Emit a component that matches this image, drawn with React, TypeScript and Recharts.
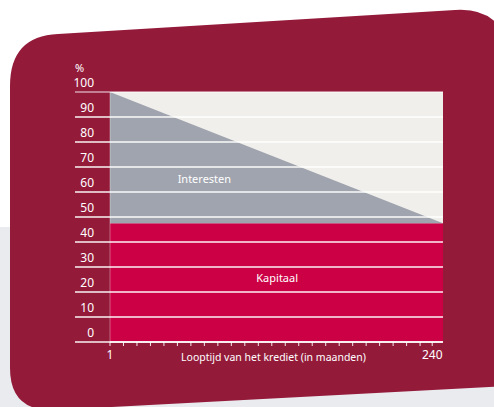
import { AreaChart, Area, XAxis, YAxis, CartesianGrid, ReferenceDot, Label } from 'recharts';

const months = [1, 248];
const kapitaal = [47.5, 47.5];
const interesten = [52.5, 0];
const yTicks = [0, 10, 20, 30, 40, 50, 60, 70, 80, 90, 100];
const xTicks = [1, 11, 21, 31, 41, 51, 61, 71, 81, 91, 101, 111, 121, 131, 141, 151, 161, 171, 181, 191, 201, 211, 221, 231, 240];
const xLabelled = [1, 240];
const seriesLabels = [
  { name: 'Interesten', month: 71, value: 65 },
  { name: 'Kapitaal', month: 125, value: 25.5 },
];

const data = months.map((m, i) => ({ month: m, kapitaal: kapitaal[i], interesten: interesten[i] }));

const W = 494;
const H = 407;
const PLOT_LEFT = 110;
const PLOT_RIGHT = 443;
const FONT = '"Noto Sans", sans-serif';

function YTick(props: any) {
  const { y, payload } = props;
  const v = payload.value;
  return (
    <g>
      <line x1={PLOT_LEFT - 35} x2={PLOT_RIGHT} y1={y} y2={y} stroke="#fff" strokeOpacity={v === 100 ? 0.6 : 0.95} strokeWidth={1.5} />
      <text x={94} y={y - 10} textAnchor="end" dominantBaseline="central" fill="#fff" fontSize={12} fontFamily={FONT}>{v}</text>
      {v === 100 && (
        <text x={75} y={y - 25} textAnchor="start" dominantBaseline="central" fill="#fff" fontSize={11} fontFamily={FONT}>%</text>
      )}
    </g>
  );
}

function XTick(props: any) {
  const { x, y, payload } = props;
  if (!xLabelled.includes(payload.value)) return <g />;
  return (
    <text x={x} y={y + 6} textAnchor="middle" dominantBaseline="central" fill="#ffffff" fontSize={12} fontFamily={FONT}>
      {payload.value}
    </text>
  );
}

export default function App() {
  return (
    <div style={{ position: 'absolute', left: 0, top: 0, width: W, height: H, overflow: 'hidden', background: '#fff' }}>
      <svg width={W} height={H} style={{ position: 'absolute', left: 0, top: 0 }}>
        <rect x={0} y={227} width={W} height={H - 227} fill="#eaebef" />
        <path d="M 10 86 Q 10 36 58 34 L 455 10 Q 500 7 510 50 L 510 386 L 55 410 Q 10 412 10 368 Z" fill="#941a3a" />
      </svg>
      <div style={{ position: 'absolute', left: 0, top: 0 }}>
        <AreaChart width={W} height={H} data={data} margin={{ top: 92, right: W - PLOT_RIGHT, bottom: 35, left: PLOT_LEFT - 35 }}>
          <CartesianGrid horizontal={false} vertical={false} fill="#f0efeb" fillOpacity={1} />
          <XAxis
            dataKey="month"
            type="number"
            domain={[1, 248]}
            ticks={xTicks}
            interval={0}
            height={30}
            tick={<XTick />}
            tickSize={4}
            tickLine={{ stroke: '#fff', strokeOpacity: 0.9 }}
            axisLine={{ stroke: '#fff', strokeWidth: 1.5 }}
          >
            <Label value="Looptijd van het krediet (in maanden)" position="center" dx={-3} fill="#fff" fontSize={10.5} fontFamily={FONT} />
          </XAxis>
          <YAxis
            type="number"
            domain={[0, 100]}
            ticks={yTicks}
            interval={0}
            width={35}
            tick={<YTick />}
            tickLine={false}
            axisLine={{ stroke: '#fff', strokeOpacity: 0.35 }}
          />
          <Area type="linear" dataKey="kapitaal" stackId="a" stroke="none" fill="#cc0044" fillOpacity={1} isAnimationActive={false} />
          <Area type="linear" dataKey="interesten" stackId="a" stroke="none" fill="#a0a4ae" fillOpacity={1} isAnimationActive={false} />
          {seriesLabels.map((s) => (
            <ReferenceDot key={s.name} x={s.month} y={s.value} r={0} stroke="none" fill="none">
              <Label value={s.name} position="center" fill="#fff" fontSize={11} fontFamily={FONT} />
            </ReferenceDot>
          ))}
        </AreaChart>
      </div>
    </div>
  );
}
